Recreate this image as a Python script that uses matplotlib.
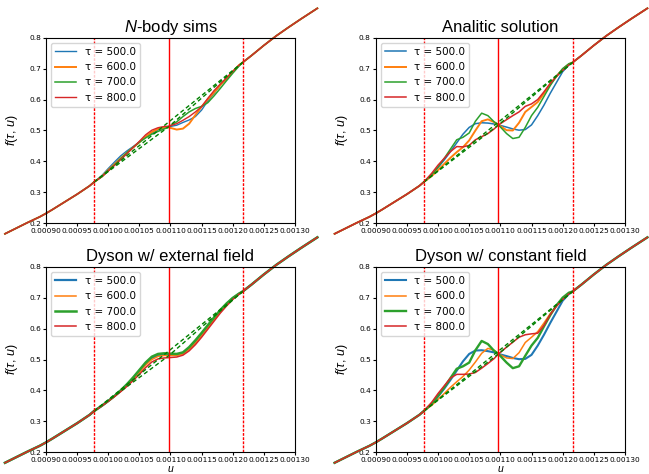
import numpy as np
import matplotlib
matplotlib.use("Agg")
import matplotlib.pyplot as plt

plt.rcParams['font.family'] = ['DejaVu Sans']
plt.rcParams['mathtext.fontset'] = 'custom'
plt.rcParams['mathtext.it'] = 'Liberation Sans:italic'
plt.rcParams['mathtext.rm'] = 'Liberation Sans'

taus = [500.0, 600.0, 700.0, 800.0]
colors = ['C0', 'C1', 'C2', 'C3']

# shared wings of the curve (all tau agree there)
u_left = [0.000834, 0.00085, 0.00087, 0.00089, 0.00090, 0.00091, 0.00093, 0.00095, 0.00097]
f_left = [0.166, 0.182, 0.202, 0.221, 0.232, 0.244, 0.269, 0.294, 0.321]
u_right = [0.00123, 0.00125, 0.00127, 0.00129, 0.00131, 0.001336]
f_right = [0.742, 0.775, 0.806, 0.834, 0.861, 0.895]

# region between the two dotted lines
u_mid = [0.000977, 0.00099, 0.00100, 0.00101, 0.00102, 0.00103, 0.00104, 0.00105,
         0.00106, 0.00107, 0.00108, 0.00109, 0.001097, 0.00111, 0.00112, 0.00113,
         0.00114, 0.00115, 0.00116, 0.00117, 0.00118, 0.00119, 0.00120, 0.00121, 0.001216]

nbody = [
    [.333, .355, .377, .398, .418, .434, .448, .463, .478, .491, .502, .509, .512,
     .517, .526, .534, .545, .566, .596, .620, .646, .668, .690, .710, .720],
    [.333, .352, .372, .391, .410, .428, .445, .462, .480, .495, .505, .510, .510,
     .503, .506, .522, .550, .577, .601, .623, .647, .668, .690, .711, .720],
    [.333, .351, .370, .389, .409, .428, .446, .462, .476, .488, .497, .505, .512,
     .528, .545, .560, .571, .578, .590, .612, .636, .661, .685, .708, .720],
    [.333, .351, .369, .387, .406, .425, .445, .465, .486, .501, .509, .513, .514,
     .522, .533, .545, .560, .577, .604, .629, .650, .670, .691, .711, .720],
]
analytic = [
    [.333, .356, .380, .405, .432, .460, .488, .510, .522, .525, .524, .521, .518,
     .511, .505, .501, .503, .518, .548, .582, .620, .655, .690, .712, .720],
    [.333, .353, .372, .392, .412, .430, .446, .468, .500, .530, .536, .527, .518,
     .501, .500, .525, .560, .576, .592, .620, .650, .675, .698, .714, .720],
    [.333, .357, .382, .410, .440, .470, .478, .492, .530, .556, .548, .528, .518,
     .490, .474, .478, .510, .548, .575, .610, .645, .675, .700, .716, .720],
    [.333, .362, .388, .410, .432, .448, .447, .452, .470, .480, .490, .505, .518,
     .535, .548, .560, .578, .586, .600, .625, .652, .675, .694, .712, .720],
]
dyson_ext = [
    [.333, .351, .366, .382, .399, .418, .440, .463, .487, .505, .514, .516, .516,
     .516, .520, .536, .557, .581, .607, .632, .657, .679, .698, .712, .720],
    [.333, .351, .366, .381, .398, .416, .437, .459, .482, .500, .510, .513, .513,
     .513, .518, .533, .553, .577, .603, .629, .654, .677, .697, .712, .720],
    [.333, .351, .366, .382, .400, .420, .442, .466, .490, .509, .518, .520, .519,
     .518, .523, .540, .562, .586, .611, .636, .660, .681, .699, .713, .720],
    [.333, .350, .365, .380, .396, .413, .432, .452, .474, .492, .502, .505, .506,
     .508, .514, .528, .548, .572, .598, .624, .650, .673, .694, .711, .720],
]
dyson_const = [
    [.333, .356, .380, .406, .434, .464, .494, .518, .529, .530, .527, .523, .518,
     .511, .505, .501, .502, .515, .545, .580, .618, .654, .690, .712, .720],
    [.333, .352, .371, .390, .410, .428, .445, .466, .492, .520, .536, .530, .518,
     .505, .503, .522, .555, .572, .590, .618, .648, .673, .697, .714, .720],
    [.333, .357, .383, .410, .440, .470, .478, .490, .530, .560, .550, .528, .518,
     .490, .472, .478, .512, .545, .570, .607, .643, .675, .700, .716, .720],
    [.333, .362, .390, .415, .440, .452, .452, .453, .458, .472, .487, .503, .518,
     .540, .556, .572, .580, .583, .585, .610, .645, .672, .694, .712, .720],
]

titles = ['$N$-body sims', 'Analitic solution', 'Dyson w/ external field', 'Dyson w/ constant field']
panels = [nbody, analytic, dyson_ext, dyson_const]
widths = [[1.0, 1.4, 1.1, 1.0], [1.1, 1.4, 1.1, 1.1], [1.6, 1.1, 1.8, 1.1], [1.5, 1.1, 1.7, 1.1]]

u_lo, u_c, u_hi = 0.000977, 0.001097, 0.001216
centers = [0.512, 0.518, 0.512, 0.518]
f_lo, f_hi = 0.333, 0.720

x_ticks = [0.00090, 0.00095, 0.00100, 0.00105, 0.00110, 0.00115, 0.00120, 0.00125, 0.00130]
y_ticks = [0.2, 0.3, 0.4, 0.5, 0.6, 0.7, 0.8]

fig = plt.figure(figsize=(6.49, 4.74), dpi=100)
boxes = [[0.0709, 0.5289, 0.3836, 0.3916], [0.5789, 0.5289, 0.3841, 0.3916],
         [0.0709, 0.0458, 0.3836, 0.3915], [0.5789, 0.0458, 0.3841, 0.3915]]

for k in range(4):
    ax = fig.add_axes(boxes[k])
    for j in range(4):
        u = u_left + u_mid + u_right
        f = f_left + panels[k][j] + f_right
        ax.plot(u, f, color=colors[j], lw=widths[k][j], clip_on=False,
                label='τ = {}'.format(taus[j]))
    ax.plot([u_lo, u_c, u_hi], [f_lo, centers[k], f_hi], color='green', lw=1,
            ls=(0, (3, 2)))
    ax.plot([u_lo, u_hi], [f_lo, f_hi], color='green', lw=1, ls=(0, (3, 2)))
    ax.axvline(u_lo, color='red', lw=1, ls=(0, (2, 1)))
    ax.axvline(u_c, color='red', lw=1)
    ax.axvline(u_hi, color='red', lw=1, ls=(0, (2, 1)))

    ax.set_xlim(0.0009, 0.0013)
    ax.set_ylim(0.2, 0.8)
    ax.set_xticks(x_ticks)
    ax.set_xticklabels(['%.5f' % t for t in x_ticks])
    ax.set_yticks(y_ticks)
    ax.set_yticklabels(['%.1f' % t for t in y_ticks])
    ax.tick_params(labelsize=5.3, length=2.5, pad=1)
    ax.set_title(titles[k], fontsize=12, family='Liberation Sans', pad=4)
    ax.set_ylabel(r'$f(\tau,\,u)$', fontsize=9)
    ax.yaxis.set_label_coords(-0.105, 0.5)
    if k >= 2:
        ax.set_xlabel('$u$', fontsize=7.5, va='center')
        ax.xaxis.set_label_coords(0.5, -0.088)
    ax.legend(loc='upper left', fontsize=7.5)

fig.savefig("out.png", dpi=100)
